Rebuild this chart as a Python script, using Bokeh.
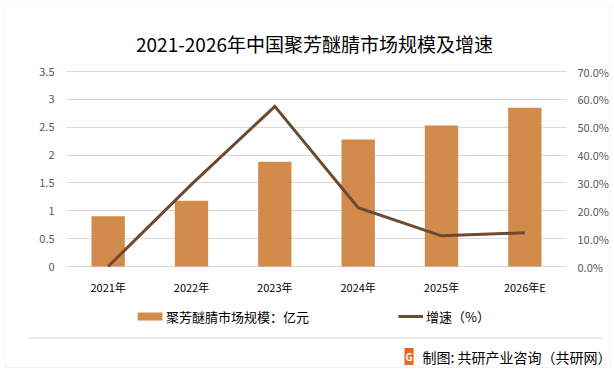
from bokeh.plotting import figure
from bokeh.models import (ColumnDataSource, Range1d, LinearAxis, FixedTicker,
                          NumeralTickFormatter, Legend, LegendItem, Label, BoxAnnotation)
from bokeh.embed import file_html
from bokeh.resources import INLINE

# ---- data ----
years = ["2021年", "2022年", "2023年", "2024年", "2025年", "2026年E"]
market_size = [0.90, 1.18, 1.88, 2.28, 2.53, 2.85]          # 亿元
growth = [0.0, 0.295, 0.575, 0.211, 0.110, 0.121]           # 增速
left_ticks = [0, 0.5, 1, 1.5, 2, 2.5, 3, 3.5]
left_tick_labels = ["0", "0.5", "1", "1.5", "2", "2.5", "3", "3.5"]
right_ticks = [0, 0.1, 0.2, 0.3, 0.4, 0.5, 0.6, 0.7]

title_text = "2021-2026年中国聚芳醚腈市场规模及增速"
bar_label = "聚芳醚腈市场规模：亿元"
line_label = "增速（%）"
source_text = "制图: 共研产业咨询（共研网）"

FONT = "Noto Sans CJK SC"
BAR_COLOR = "#D38B4C"
LINE_COLOR = "#6B4A2F"
GRID = "#D9D9D9"

# ---- geometry (pixels) ----
W, H = 614, 372
PL, PR, PT, PB = 66, 566, 71, 266          # data area inside the canvas
n = len(years)
ymax, pmax = 3.5, 0.7
ux = (PR - PL) / n
uy = (PB - PT) / ymax
x_start, x_end = -0.5 - PL / ux, n - 0.5 + (W - PR) / ux
y_start, y_end = -(H - PB) / uy, ymax + PT / uy
k = pmax / ymax

xs = list(range(n))
src = ColumnDataSource(dict(x=xs, size=market_size, growth=growth))

p = figure(width=W, height=H, x_range=Range1d(x_start, x_end), y_range=Range1d(y_start, y_end),
           output_backend="svg", toolbar_location=None,
           min_border=0, min_border_left=0, min_border_right=0, min_border_top=0,
           min_border_bottom=0)
p.extra_y_ranges = {"pct": Range1d(y_start * k, y_end * k)}
p.outline_line_color = None
p.background_fill_color = "white"
p.border_fill_color = "white"

bars = p.vbar(x="x", top="size", width=0.4, source=src, color=BAR_COLOR, line_color=None)
line = p.line(x="x", y="growth", source=src, y_range_name="pct",
              line_color=LINE_COLOR, line_width=3, line_join="miter")

# grid
p.xgrid.grid_line_color = None
p.ygrid.ticker = FixedTicker(ticks=left_ticks)
p.ygrid.grid_line_color = GRID
try:
    p.ygrid[0].cross_bounds = (-0.5, n - 0.5)
except AttributeError:
    p.ygrid.grid_line_color = None
    p.segment(x0=[-0.5] * len(left_ticks), x1=[n - 0.5] * len(left_ticks),
              y0=left_ticks, y1=left_ticks, line_color=GRID, line_width=1, level="underlay")

# axes
la = p.yaxis[0]
la.fixed_location = -0.5
la.ticker = FixedTicker(ticks=left_ticks)
la.major_label_overrides = {t: s for t, s in zip(left_ticks, left_tick_labels)}
xa = p.xaxis[0]
xa.fixed_location = 0
xa.ticker = FixedTicker(ticks=xs)
xa.major_label_overrides = {i: s for i, s in zip(xs, years)}

ra = LinearAxis(y_range_name="pct", ticker=FixedTicker(ticks=right_ticks),
                formatter=NumeralTickFormatter(format="0.0%"))
ra.fixed_location = n - 0.5
p.add_layout(ra, "right")

for ax in (la, xa, ra):
    ax.axis_line_color = None
    ax.major_tick_line_color = None
    ax.minor_tick_line_color = None
    ax.major_tick_in = 0
    ax.major_tick_out = 0
    ax.major_label_text_font = FONT
for ax in (la, ra):
    ax.major_label_text_font_size = "11px"
    ax.major_label_text_color = "#595959"
la.major_label_standoff = 12
ra.major_label_standoff = 11
xa.major_label_text_font_size = "11px"
xa.major_label_text_color = "#000000"
xa.major_label_standoff = 12

# legends
common = dict(label_height=16, glyph_height=10, padding=0, margin=0, border_line_color=None,
              background_fill_alpha=0, label_text_font=FONT, label_text_font_size="13px",
              label_text_color="#000000")
leg1 = Legend(items=[LegendItem(label=bar_label, renderers=[bars])], location=(134, 46.5),
              glyph_width=31, label_standoff=1, **common)
leg2 = Legend(items=[LegendItem(label=line_label, renderers=[line])], location=(398, 46.5),
              glyph_width=25, label_standoff=3, **common)
p.add_layout(leg1)
p.add_layout(leg2)

# title
p.add_layout(Label(x=314, y=H - 43, x_units="screen", y_units="screen", text=title_text,
                   text_align="center", text_baseline="middle", text_font=FONT,
                   text_font_size="19px", text_color="#000000"))

# separator line and outer border
p.add_layout(BoxAnnotation(left=27, right=602, bottom=H - 338, top=H - 337,
                           left_units="screen", right_units="screen",
                           bottom_units="screen", top_units="screen",
                           fill_color=GRID, fill_alpha=1, line_color=None))
p.add_layout(BoxAnnotation(left=4.5, right=609.5, bottom=H - 367, top=H - 3.5,
                           left_units="screen", right_units="screen",
                           bottom_units="screen", top_units="screen",
                           fill_alpha=0, line_color=GRID, line_width=1))

# footer
p.add_layout(Label(x=408.5, y=H - 356, x_units="screen", y_units="screen", text="G",
                   text_align="center", text_baseline="middle", text_font=FONT,
                   text_font_style="bold", text_font_size="10px", text_color="white",
                   background_fill_color="#EE6424", padding=1))
p.add_layout(Label(x=611, y=H - 356, x_units="screen", y_units="screen", text=source_text,
                   text_align="right", text_baseline="middle", text_font=FONT,
                   text_font_size="14px", text_color="#000000"))

open("out.html", "w").write(file_html(p, INLINE))
